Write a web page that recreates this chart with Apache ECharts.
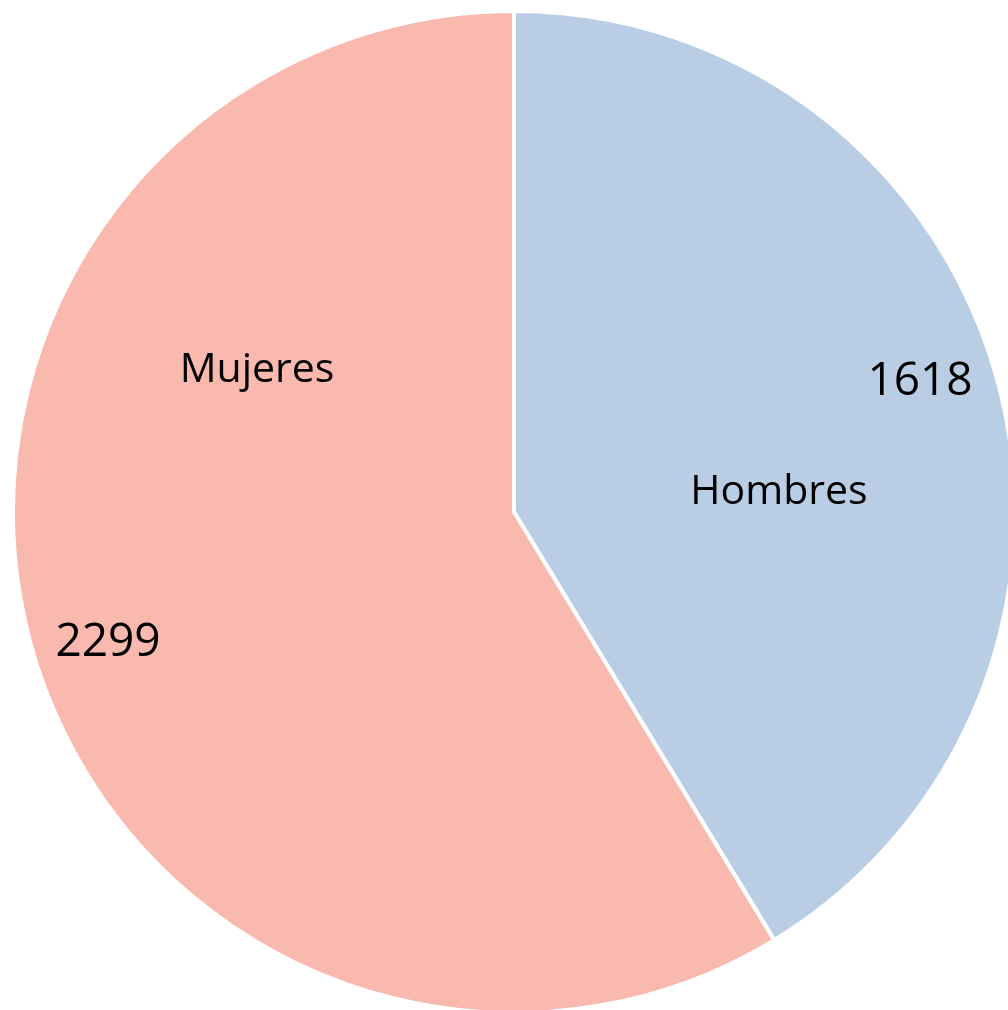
<!DOCTYPE html>
<html>
<head>
<meta charset="utf-8">
<script src="https://cdn.jsdelivr.net/npm/echarts@6/dist/echarts.min.js"></script>
<style>
  html, body { margin: 0; padding: 0; background: #fff; }
  #chart { width: 1008px; height: 1010px; }
</style>
</head>
<body>
<div id="chart"></div>
<script>
// datos
const categories = ["Hombres", "Mujeres"];
const values = [1618, 2299];
const colors = ["#B9CDE5", "#FAB9AF"];

// posiciones manuales de etiquetas (como en Excel)
const namePos = [[779, 492], [257, 370]];
const valuePos = [[920, 382], [108, 643]];

const chart = echarts.init(document.getElementById("chart"));

const base = {
  type: "pie",
  center: [514, 512],
  radius: 501,
  startAngle: 90,
  clockwise: true,
  animation: false,
  labelLine: { show: false },
  emphasis: { disabled: true },
};

chart.setOption({
  backgroundColor: "#fff",
  series: [
    {
      ...base,
      data: categories.map((name, i) => ({
        name: name,
        value: values[i],
        itemStyle: { color: colors[i] },
      })),
      itemStyle: { borderColor: "#fff", borderWidth: 4 },
      label: {
        show: true,
        position: "inside",
        formatter: "{c}",
        color: "#000",
        fontFamily: "Open Sans",
        fontSize: 46,
      },
      labelLayout: (p) => ({ x: valuePos[p.dataIndex][0], y: valuePos[p.dataIndex][1] }),
    },
    {
      // capa transparente solo para los nombres
      ...base,
      data: categories.map((name, i) => ({ name: name, value: values[i] })),
      silent: true,
      itemStyle: { color: "rgba(0,0,0,0)", borderWidth: 0 },
      label: {
        show: true,
        position: "inside",
        formatter: "{b}",
        color: "#000",
        fontFamily: "Open Sans",
        fontSize: 41,
      },
      labelLayout: (p) => ({ x: namePos[p.dataIndex][0], y: namePos[p.dataIndex][1] }),
    },
  ],
});
</script>
</body>
</html>
